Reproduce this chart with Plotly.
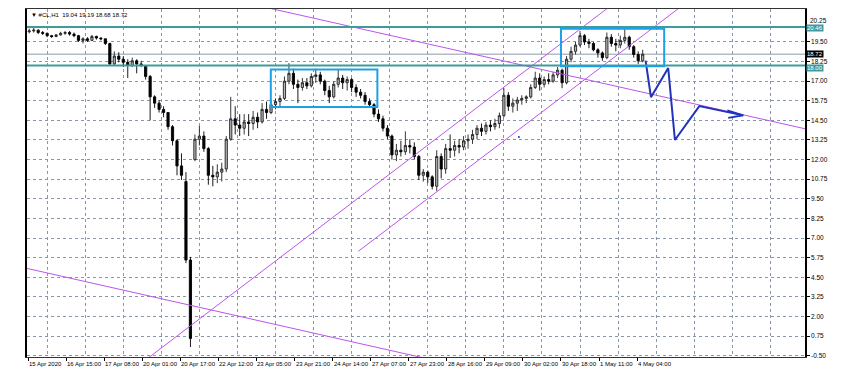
import plotly.graph_objects as go

# ---------------- data (2-hour candles, x in hours since 15 Apr 2020 00:00 bar) ----------------
opens = [20.15, 20.2, 20.25, 20.1, 20.05, 19.9, 19.85, 19.95, 20.05, 20.1,
         20.0, 19.9, 19.6, 19.7, 19.6, 19.85, 19.75, 19.7, 19.4, 18.1,
         18.6, 18.4, 18.2, 18.0, 18.3, 18.1, 18.0, 17.3, 16.0, 15.6,
         15.2, 15.0, 14.1, 13.2, 11.6, 10.6, 5.6, 12.0, 13.3, 13.5,
         12.7, 11.0, 10.9, 11.2, 11.4, 13.3, 14.6, 14.2, 14.0, 14.4,
         14.3, 14.7, 14.4, 15.2, 15.0, 15.5, 15.7, 15.9, 17.0, 17.5,
         16.8, 16.6, 16.9, 16.7, 17.3, 17.4, 17.0, 16.4, 16.0, 16.8,
         17.2, 16.9, 17.1, 16.6, 16.3, 16.1, 15.7, 15.5, 14.9, 14.6,
         14.0, 13.5, 12.3, 12.6, 12.5, 12.9, 12.8, 12.2, 11.0, 11.2,
         10.9, 10.3, 12.2, 11.4, 12.7, 12.6, 12.9, 12.8, 13.2, 13.3,
         13.6, 14.0, 13.8, 14.2, 14.1, 14.3, 14.8, 16.1, 15.4, 15.6,
         15.8, 15.9, 16.0, 16.6, 17.2, 16.8, 17.1, 17.0, 17.4, 17.7,
         16.9, 18.4, 18.9, 19.3, 19.9, 19.5, 19.4, 19.0, 18.8, 18.5,
         19.8, 19.4, 19.3, 19.6, 19.8, 19.2, 18.7, 18.3]
highs = [20.35, 20.4, 20.3, 20.2, 20.1, 19.95, 20.0, 20.15, 20.2, 20.2,
         20.1, 19.95, 19.8, 19.8, 19.95, 19.9, 19.8, 19.7, 19.45, 18.9,
         18.85, 18.6, 18.4, 18.5, 18.4, 18.3, 18.0, 17.4, 16.1, 15.8,
         15.4, 15.0, 14.2, 13.3, 12.4, 11.2, 5.8, 13.6, 14.15, 13.8,
         12.8, 11.6, 11.7, 11.8, 13.5, 16.0, 15.4, 14.9, 14.9, 14.9,
         15.1, 15.0, 15.6, 15.7, 15.8, 15.9, 16.1, 17.3, 18.15, 17.8,
         17.1, 17.2, 17.2, 17.5, 17.8, 17.6, 17.1, 16.7, 17.0, 17.75,
         17.4, 17.3, 17.2, 16.8, 16.5, 16.3, 15.9, 15.6, 15.2, 14.8,
         14.2, 13.6, 13.0, 13.2, 13.8, 13.3, 13.1, 12.3, 11.4, 11.3,
         11.0, 12.6, 12.4, 13.0, 13.6, 13.2, 13.3, 13.5, 13.6, 13.9,
         14.2, 14.3, 14.4, 14.5, 14.6, 15.0, 16.55, 16.3, 15.9, 16.0,
         16.1, 16.1, 16.8, 17.6, 17.5, 17.3, 17.5, 17.6, 17.9, 17.8,
         18.6, 19.2, 19.5, 20.2, 20.0, 19.7, 19.5, 19.1, 18.9, 20.1,
         20.0, 19.7, 19.9, 20.4, 19.9, 19.3, 18.9, 19.0]
lows = [20.05, 20.1, 20.0, 19.95, 19.8, 19.75, 19.8, 19.9, 19.95, 19.9,
        19.8, 19.5, 19.4, 19.5, 19.6, 19.65, 19.6, 19.3, 18.0, 18.0,
        18.2, 17.9, 17.2, 17.9, 17.5, 17.9, 17.1, 14.5, 15.3, 15.0,
        14.7, 13.9, 12.9, 11.0, 10.7, 5.4, 0.05, 11.9, 12.9, 12.5,
        10.4, 10.3, 10.5, 10.6, 11.2, 13.2, 13.6, 13.5, 13.6, 13.5,
        13.9, 14.0, 14.3, 14.6, 14.9, 15.2, 15.4, 15.8, 16.8, 16.5,
        15.6, 16.4, 16.5, 16.6, 16.9, 16.8, 16.1, 15.6, 15.9, 16.6,
        16.5, 16.4, 16.3, 16.0, 15.9, 15.5, 15.3, 14.7, 14.4, 13.8,
        13.3, 12.0, 11.9, 12.2, 12.3, 12.4, 12.0, 10.7, 10.6, 10.5,
        10.1, 10.0, 10.8, 11.1, 12.1, 12.2, 12.4, 12.6, 12.7, 13.0,
        13.3, 13.5, 13.6, 13.8, 13.9, 14.0, 14.7, 15.1, 15.0, 15.1,
        15.5, 15.6, 15.9, 16.5, 16.4, 16.6, 16.8, 16.9, 17.2, 16.55,
        16.8, 18.2, 18.7, 19.2, 19.3, 19.1, 18.9, 18.5, 18.3, 18.4,
        19.2, 18.9, 19.1, 19.4, 19.0, 18.5, 18.1, 18.2]
closes = [20.2, 20.25, 20.1, 20.05, 19.9, 19.85, 19.95, 20.05, 20.1, 20.0,
          19.9, 19.6, 19.7, 19.6, 19.85, 19.75, 19.7, 19.4, 18.1, 18.6,
          18.4, 18.2, 18.0, 18.3, 18.1, 18.0, 17.3, 16.0, 15.6, 15.2,
          15.0, 14.1, 13.2, 11.6, 11.0, 5.6, 0.6, 13.3, 13.5, 12.7,
          11.0, 10.9, 11.2, 11.4, 13.3, 14.6, 14.2, 14.0, 14.4, 14.3,
          14.7, 14.4, 15.2, 15.0, 15.5, 15.7, 15.9, 17.0, 17.5, 16.8,
          16.6, 16.9, 16.7, 17.3, 17.4, 17.0, 16.4, 16.0, 16.8, 17.2,
          16.9, 17.1, 16.6, 16.3, 16.1, 15.7, 15.5, 14.9, 14.6, 14.0,
          13.5, 12.3, 12.6, 12.5, 12.9, 12.8, 12.2, 11.0, 11.2, 10.9,
          10.3, 12.2, 11.4, 12.7, 12.6, 12.9, 12.8, 13.2, 13.3, 13.6,
          14.0, 13.8, 14.2, 14.1, 14.3, 14.8, 16.1, 15.4, 15.6, 15.8,
          15.9, 16.0, 16.6, 17.2, 16.8, 17.1, 17.0, 17.4, 17.7, 16.9,
          18.4, 18.9, 19.3, 19.9, 19.5, 19.4, 19.0, 18.8, 18.5, 19.8,
          19.4, 19.3, 19.6, 19.8, 19.2, 18.7, 18.3, 18.72]

bar_hours = 2  # each candle spans two hourly slots
x_labels = ["15 Apr 2020", "16 Apr 15:00", "17 Apr 08:00", "20 Apr 01:00", "20 Apr 17:00",
            "22 Apr 12:00", "23 Apr 05:00", "23 Apr 21:00", "24 Apr 14:00", "27 Apr 07:00",
            "27 Apr 23:00", "28 Apr 16:00", "29 Apr 09:00", "30 Apr 02:00", "30 Apr 18:00",
            "1 May 11:00", "4 May 04:00"]
label_step = 17  # hourly slots between axis labels

y_ticks = [-0.50, 0.75, 2.00, 3.25, 4.50, 5.75, 7.00, 8.25, 9.50, 10.75,
           12.00, 13.25, 14.50, 15.75, 17.00, 18.25, 19.50]
top_price_label = 20.25

# drawn objects (anchor points: hour slot, price)
line_resist_x = [100, 350]
line_resist_y = [21.90, 13.87]
line_lower_x = [-1, 180]
line_lower_y = [5.08, -0.75]
chan_up_x = [50, 262]
chan_up_y = [-1.04, 22.0]
chan_dn_x = [147.5, 300]
chan_dn_y = [6.16, 22.66]
box1 = dict(x0=108.4, x1=156.0, y0=15.36, y1=17.74)
box2 = dict(x0=238.0, x1=284.1, y0=17.95, y1=20.34)
hlines_teal = [20.46, 18.00]
last_price = 18.72
zig_x = [275.8, 278.2, 285.9, 288.9, 299.8, 319.4]
zig_y = [18.31, 15.98, 17.84, 13.25, 15.41, 14.82]
arrow_x = [312.3, 319.4, 312.7]
arrow_y = [15.13, 14.82, 14.66]
dot_x = [219.2]
dot_y = [13.44]
title_text = "\u25bc #CL,H1  19.04 19.19 18.68 18.72"

# ---------------- figure ----------------
# the page body has an 8px margin, so the figure is drawn 8px smaller and offset
x_pos = [bar_hours * k + 0.5 for k in range(len(closes))]
PURPLE = "#bb55ee"
TEAL = "#3f9b9b"
BOXBLUE = "#1ea0e6"
ZIG = "#2233bb"
GRID = "#8796aa"
FONT = "Liberation Sans"

fig = go.Figure()
for lx, ly in [(line_resist_x, line_resist_y), (line_lower_x, line_lower_y),
               (chan_up_x, chan_up_y), (chan_dn_x, chan_dn_y)]:
    fig.add_trace(go.Scatter(x=lx, y=ly, mode="lines", line=dict(color=PURPLE, width=1),
                             hoverinfo="skip"))

fig.add_trace(go.Candlestick(
    x=x_pos, open=opens, high=highs, low=lows, close=closes,
    increasing=dict(line=dict(color="#202020", width=0.9), fillcolor="#b8b8b8"),
    decreasing=dict(line=dict(color="#000000", width=0.9), fillcolor="#000000"),
    whiskerwidth=0, hoverinfo="skip"))

fig.add_trace(go.Scatter(x=zig_x, y=zig_y, mode="lines", line=dict(color=ZIG, width=2),
                         hoverinfo="skip"))
fig.add_trace(go.Scatter(x=arrow_x, y=arrow_y, mode="lines", line=dict(color=ZIG, width=2),
                         hoverinfo="skip"))
fig.add_trace(go.Scatter(x=dot_x, y=dot_y, mode="markers",
                         marker=dict(color=ZIG, size=2), hoverinfo="skip"))

shapes = []
for v in hlines_teal:
    shapes.append(dict(type="line", xref="paper", x0=0, x1=1, yref="y", y0=v, y1=v,
                       line=dict(color=TEAL, width=2), layer="above"))
shapes.append(dict(type="line", xref="paper", x0=0, x1=1, yref="y", y0=last_price, y1=last_price,
                   line=dict(color="#8a9aaa", width=1), layer="below"))
for b in (box1, box2):
    shapes.append(dict(type="rect", xref="x", yref="y", **b,
                       line=dict(color=BOXBLUE, width=2), fillcolor="rgba(0,0,0,0)", layer="above"))
# light grey strip at right edge of the window
shapes.append(dict(type="rect", xref="paper", yref="paper", x0=1.0375, x1=1.07, y0=-0.1, y1=1.1,
                   line=dict(width=0), fillcolor="#f0f0f0", layer="below"))

n_labels = len(x_labels)
tick_pos = [label_step * i for i in range(n_labels)]
grid_pos = [label_step * i + label_step / 2 for i in range(21)]

annotations = []
for tp, lab in zip(tick_pos, x_labels):
    annotations.append(dict(x=tp, xref="x", y=0, yref="paper", text=lab, showarrow=False,
                            xanchor="left", yanchor="top", yshift=-2, xshift=-1,
                            font=dict(family=FONT, size=6, color="#000000")))
annotations.append(dict(x=0.003, xref="paper", y=1, yref="paper", text=title_text, showarrow=False,
                        xanchor="left", yanchor="top", yshift=-1,
                        font=dict(family=FONT, size=6, color="#000000")))
annotations.append(dict(x=1, xref="paper", y=top_price_label + 0.42, yref="y", text=f"{top_price_label:.2f}",
                        showarrow=False, xanchor="left", xshift=3, yshift=3,
                        font=dict(family=FONT, size=6.5, color="#000000")))
for v, bg, ys in [(hlines_teal[0], TEAL, -1), (last_price, "#000000", 0), (hlines_teal[1], TEAL, -3)]:
    annotations.append(dict(x=1, xref="paper", y=v, yref="y", text=f"{v:.2f}", showarrow=False,
                            xanchor="left", xshift=1, yshift=ys, bgcolor=bg, borderpad=0,
                            font=dict(family=FONT, size=6, color="#ffffff")))

fig.update_layout(
    width=834, height=366, autosize=False,
    margin=dict(l=19, r=37, t=1, b=17),
    paper_bgcolor="#ffffff", plot_bgcolor="#ffffff",
    showlegend=False, hovermode=False,
    shapes=shapes, annotations=annotations,
    xaxis=dict(range=[-0.5, 347], showgrid=False, zeroline=False,
               tickmode="array", tickvals=tick_pos, showticklabels=False,
               ticks="outside", ticklen=3, tickcolor="#000000",
               showline=True, linecolor="#333333", linewidth=1, mirror=True,
               rangeslider=dict(visible=False),
               minor=dict(tickmode="array", tickvals=grid_pos, showgrid=True,
                          gridcolor=GRID, griddash="dot", gridwidth=1, ticks="")),
    yaxis=dict(range=[-0.583, 21.60], side="right", tickmode="array", tickvals=y_ticks,
               ticktext=[f"{v:.2f}" for v in y_ticks], showgrid=True, gridcolor=GRID,
               griddash="dot", gridwidth=1, zeroline=False,
               ticks="outside", ticklen=3, tickcolor="#000000",
               showline=True, linecolor="#000000", linewidth=1.5, mirror=True,
               tickfont=dict(family=FONT, size=6.5, color="#000000")),
)

fig.write_html("out.html")
